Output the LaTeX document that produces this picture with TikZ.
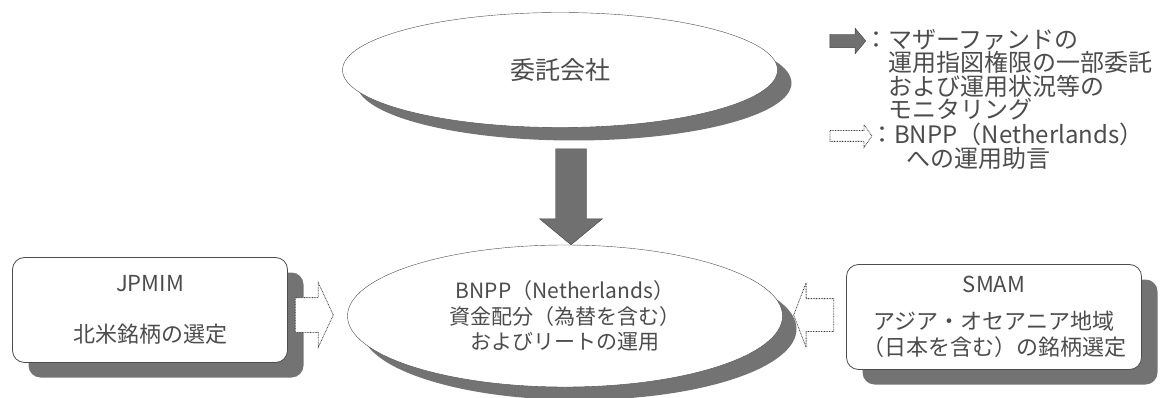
\documentclass[tikz,border=0pt]{standalone}
\usepackage{fontspec}
\setmainfont{Noto Sans CJK JP}
\usetikzlibrary{arrows,shapes,shadows}
\definecolor{shade}{gray}{0.45}
\definecolor{arrowgray}{gray}{0.44}
\definecolor{ink}{gray}{0.3}
\tikzset{
	boss/.style={
		ellipse,
		draw=black!70,
		fill=white,
		inner sep=0pt,
		text=ink,
		drop shadow={shadow xshift=14pt,shadow yshift=-13pt,fill=shade,opacity=1},
	},
	adviser/.style={
		rectangle,
		rounded corners=12pt,
		draw=black!70,
		thick,
		fill=white,
		text=ink,
		align=center,
		drop shadow={shadow xshift=16pt,shadow yshift=-15pt,fill=shade,opacity=1},
	},
	blockfill/.style={
		draw=black!75,
		fill=arrowgray,
		line join=miter,
	},
	solidarrow/.style={
		single arrow,
		blockfill,
		inner xsep=0pt,
	},
	openarrow/.style={
		single arrow,
		draw=black!75,
		line width=0.8pt,
		dash pattern=on 0.8pt off 0.8pt,
		fill=white,
		inner xsep=0pt,
	},
	legend/.style={
		text=ink,
		align=left,
		inner sep=0pt,
		font={\fontsize{24}{23.5}\selectfont\lineskiplimit-20pt\relax},
	}
}
\begin{document}
\begin{tikzpicture}[x=1pt,y=-1pt]
		\useasboundingbox (0,0) rectangle (1166,398);
		\node [boss,minimum width=435pt,minimum height=115pt,font=\fontsize{25}{28}\selectfont] (itaku) at (560,70) {委託会社};
		\node [boss,minimum width=435pt,minimum height=142pt,align=center,font=\fontsize{21}{25.5}\selectfont] (bnpp) at (565,316) {BNPP（Netherlands）\\資金配分（為替を含む）\\およびリートの運用};
		\node [adviser,minimum width=275pt,minimum height=105pt,font=\fontsize{22}{28}\selectfont] (jpmim) at (150,310) {JPMIM\\[23pt]北米銘柄の選定};
		\node [adviser,minimum width=295pt,minimum height=105pt,font=\fontsize{22}{26}\selectfont] (smam) at (994,317) {SMAM\\[11pt]アジア・オセアニア地域\\（日本を含む）の銘柄選定};
		% block arrows between the boxes
		\draw [blockfill] ([xshift=6pt]bnpp.north) coordinate (tip) -- ++(-31.5,-26) -- ++(16,0) -- ++(0,-70) -- ++(31,0) -- ++(0,70) -- ++(16,0) -- cycle;
		\node [openarrow,anchor=tail,minimum height=38pt,inner ysep=17pt,single arrow head extend=15pt,single arrow tip angle=130] (jparr) at ([xshift=7pt,yshift=-5pt]jpmim.east) {};
		\node [openarrow,rotate=180,anchor=tail,minimum height=40pt,inner ysep=16pt,single arrow head extend=16pt,single arrow tip angle=138] (smarr) at ([xshift=-12pt,yshift=2pt]smam.west) {};
		% legend
		\node [solidarrow,minimum height=36pt,inner ysep=6.5pt,single arrow head extend=6pt,single arrow tip angle=100] (legfill) at (845,41) {};
		\node [openarrow,minimum height=42pt,inner ysep=5pt,single arrow head extend=6pt,single arrow tip angle=110] (legopen) at (849,136) {};
		\node [legend,anchor=north west] (legtxt1) at (864,29) {：マザーファンドの\\　運用指図権限の一部委託\\　および運用状況等の\\　モニタリング};
		\node [legend,anchor=north west] (legtxt2) at (870,123) {：BNPP（Netherlands）\\\hspace*{1.5em}への運用助言};
\end{tikzpicture}
\end{document}
